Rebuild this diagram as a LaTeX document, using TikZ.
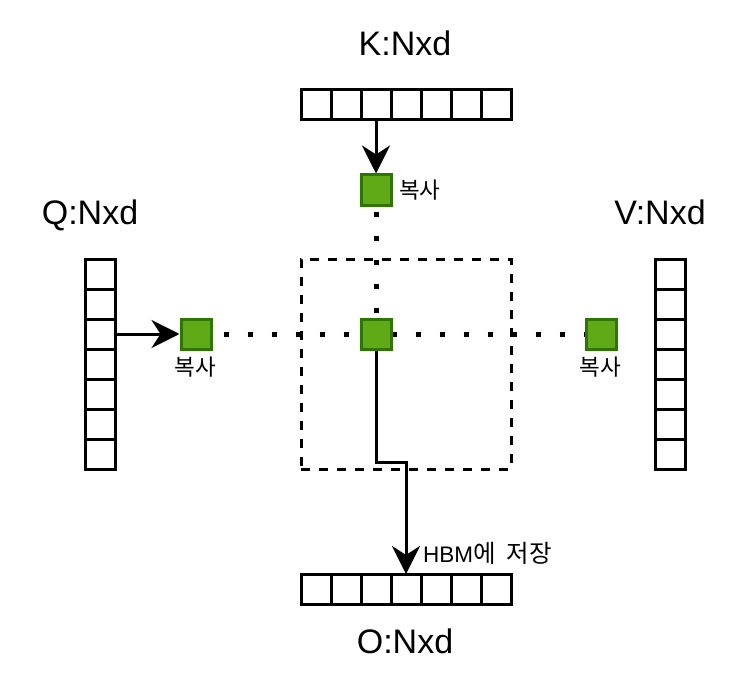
\documentclass[tikz,border=0pt]{standalone}
\usepackage{fontspec}
\setmainfont{Liberation Sans}
\newfontfamily\krfont{Noto Sans CJK KR}
\usetikzlibrary{arrows.meta,backgrounds}
\definecolor{sqfill}{HTML}{60A917}
\definecolor{sqline}{HTML}{2D7600}
\begin{document}
\begin{tikzpicture}[x=1pt, y=-1pt,
  cell/.style={draw, line width=3pt, minimum size=30pt, inner sep=0pt, outer sep=0pt},
  sq/.style={draw=sqline, fill=sqfill, line width=3pt, minimum size=30pt, inner sep=0pt},
  big/.style={font=\fontsize{34}{40}\selectfont, anchor=base, inner sep=0pt},
  small/.style={font=\krfont\fontsize{22.5}{26}\selectfont, inner sep=0pt},
  arr/.style={line width=3pt, -{Stealth[length=28pt, width=28pt, inset=9pt]}},
  dotline/.style={line width=5pt, dash pattern=on 5pt off 19pt}]
\useasboundingbox (0,0) rectangle (750,690);

\foreach \i in {1,...,7} {
  \node[cell] (k\i) at (286+30*\i,105) {};
  \node[cell] (o\i) at (286+30*\i,589) {};
  \node[cell] (q\i) at (100,244+30*\i) {};
  \node[cell] (v\i) at (670,244+30*\i) {};
}

\node[big] (klabel) at (405,56) {K:Nxd};
\node[big] (qlabel) at (90,224) {Q:Nxd};
\node[big] (vlabel) at (660,224) {V:Nxd};
\node[big] (olabel) at (405,653) {O:Nxd};

\node[draw, line width=3pt, dash pattern=on 9pt off 9pt, minimum size=210pt, inner sep=0pt, outer sep=0pt] (tile) at (406,364) {};

\node[sq] (kc) at (376,190) {};
\node[sq] (qc) at (196,334) {};
\node[sq] (cc) at (376,334) {};
\node[sq] (vc) at (601,334) {};

\node[small, anchor=west] (kcopy) at (399,190) {복사};
\node[small] (qcopy) at (195,367) {복사};
\node[small] (vcopy) at (600,367) {복사};
\node[small, anchor=west] (store) at (423,553) {{\rmfamily HBM}{\fontsize{24.5}{28}\selectfont 에\hskip 11pt 저장}};

\begin{scope}[on background layer]
\draw[dotline, dash phase=20.5pt] (qc.center) -- (vc.center);
\draw[dotline, dash phase=2.5pt] (kc.center) -- (cc.center);
\end{scope}

\draw[arr] (k3.south) -- (kc.north);
\draw[arr] (q3.east) -- (qc.west);
\coordinate (bend) at (376,462);
\draw[arr] (cc.south) -- (bend) -| (o4.north);
\end{tikzpicture}
\end{document}
